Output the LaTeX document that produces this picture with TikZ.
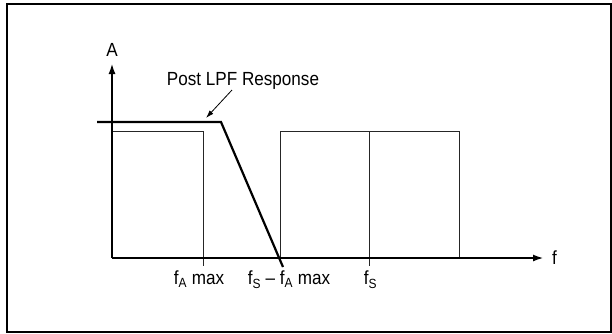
\documentclass[tikz,border=0pt]{standalone}
\usepackage{fontspec}
\setmainfont{Liberation Sans}
\usetikzlibrary{arrows.meta}
\newcommand{\narrow}[1]{\scalebox{0.9}[1]{#1}}
\begin{document}
\begin{tikzpicture}[x=1pt,y=-1pt,
  axis/.style={line width=2.2pt,-{Latex[length=11pt,width=7pt]}},
  band/.style={line width=1pt,draw=black!85},
  lpf/.style={line width=2.2pt},
  lbl/.style={font=\fontsize{19}{21}\selectfont,inner sep=0pt},
  ann/.style={line width=0.8pt,-{Latex[length=8pt,width=5pt]}}]
\useasboundingbox (0,0) rectangle (612,333);
\draw[line width=2pt] (7,3.5) rectangle (611,331.5);
% coordinates
\coordinate (O) at (112,258);
\coordinate (ytip) at (112,63);
\coordinate (xtip) at (544,258);
% bands
\draw[band] (112,131) -- (203,131) -- (203,266);
\draw[band] (280,258) -- (280,131) -- (459,131) -- (459,258);
\draw[band] (369,131) -- (369,266);
% axes
\draw[axis] (O) -- (ytip);
\draw[axis] (O) -- (xtip);
% LPF response
\coordinate (l0) at (97,122);
\coordinate (l1) at (221,122);
\coordinate (l2) at (283,267);
\draw[lpf,line join=miter] (l0) -- (l1) -- (l2);
% labels
\node[lbl,anchor=base] (A) at (112,56.7) {\narrow{A}};
\node[lbl,anchor=base west] (f) at (552,264) {\narrow{f}};
\node[lbl,anchor=base] (post) at (243,85.7) {\narrow{Post LPF Response}};
\coordinate (pt) at (206,118);
\draw[ann] (232,90) -- (pt);
\node[lbl,anchor=base] (fa) at (199,284.7) {\narrow{f\textsubscript{A} max}};
\node[lbl,anchor=base] (fsfa) at (289,284.7) {\narrow{f\textsubscript{S} – f\textsubscript{A} max}};
\node[lbl,anchor=base] (fs) at (370.5,284.7) {\narrow{f\textsubscript{S}}};
\end{tikzpicture}
\end{document}
